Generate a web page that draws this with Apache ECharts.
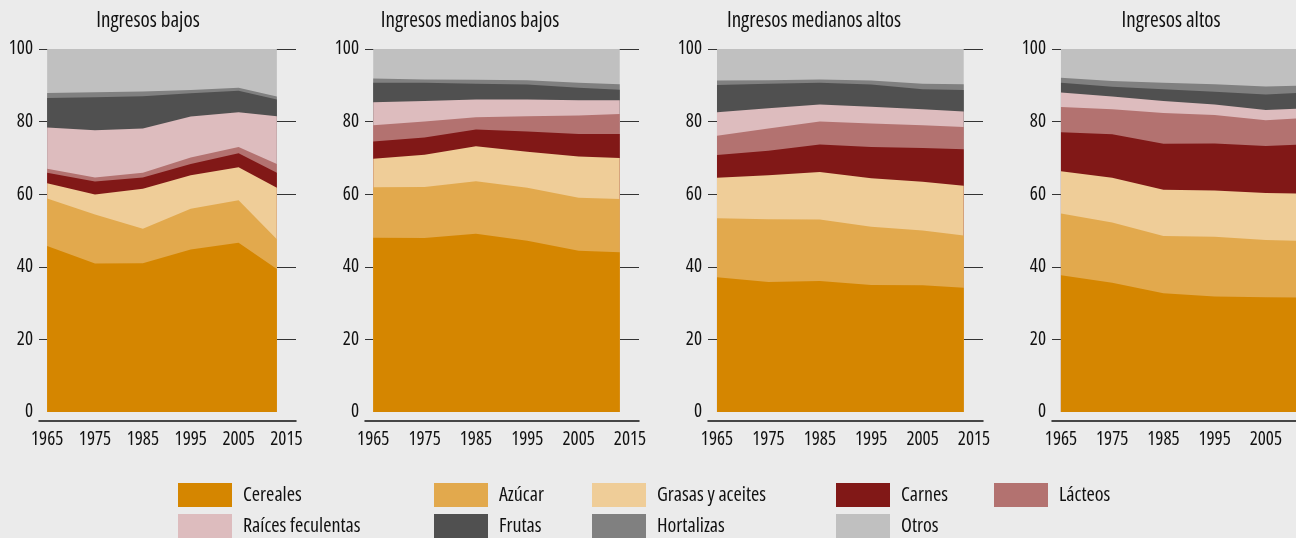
<!DOCTYPE html>
<html>
<head>
<meta charset="utf-8">
<script src="https://cdn.jsdelivr.net/npm/echarts@6/dist/echarts.min.js"></script>
<style>
html,body{margin:0;padding:0;background:#ebebeb;}
#c{width:1296px;height:538px;}
</style>
</head>
<body>
<div id="c"></div>
<script>
// Years of observation
const years = [1965, 1975, 1985, 1995, 2005, 2013];
const yearTicks = [1965, 1975, 1985, 1995, 2005, 2015];
const panelTitles = ['Ingresos bajos', 'Ingresos medianos bajos', 'Ingresos medianos altos', 'Ingresos altos'];
const categories = ['Cereales', 'Azúcar', 'Grasas y aceites', 'Carnes', 'Lácteos', 'Raíces feculentas', 'Frutas', 'Hortalizas', 'Otros'];

// Shares (%) per category; one row per income group (bajos, medianos bajos, medianos altos, altos)
const cereales = [
  [45.7, 40.9, 41.0, 44.8, 46.6, 39.4],
  [48.0, 47.9, 49.1, 47.2, 44.4, 44.0],
  [37.1, 35.8, 36.1, 35.0, 34.9, 34.2],
  [37.7, 35.6, 32.7, 31.8, 31.6, 31.5]
];
const azucar = [
  [13.1, 13.5, 9.5, 11.2, 11.7, 8.2],
  [13.9, 14.1, 14.5, 14.6, 14.6, 14.7],
  [16.3, 17.3, 16.9, 16.0, 15.1, 14.4],
  [17.0, 16.6, 15.8, 16.5, 15.8, 15.6]
];
const grasas = [
  [4.2, 5.5, 11.0, 9.2, 9.1, 14.2],
  [7.9, 8.9, 9.6, 9.9, 11.4, 11.3],
  [11.1, 12.1, 13.1, 13.4, 13.4, 13.7],
  [11.6, 12.3, 12.7, 12.7, 12.9, 13.1]
];
const carnes = [
  [2.9, 3.6, 3.1, 3.1, 3.9, 4.1],
  [4.7, 4.7, 4.6, 5.6, 6.2, 6.6],
  [6.3, 6.8, 7.6, 8.6, 9.3, 10.1],
  [10.8, 12.0, 12.7, 13.0, 13.0, 13.5]
];
const lacteos = [
  [1.1, 1.1, 1.3, 1.8, 1.7, 2.4],
  [4.5, 4.4, 3.4, 4.2, 5.1, 5.5],
  [5.3, 6.1, 6.3, 6.5, 6.3, 6.1],
  [6.9, 6.9, 8.5, 7.8, 7.1, 7.3]
];
const raices = [
  [11.4, 13.0, 12.2, 11.3, 9.6, 13.2],
  [6.3, 5.7, 4.9, 4.6, 4.2, 3.8],
  [6.5, 5.6, 4.7, 4.6, 4.4, 4.3],
  [4.0, 3.5, 3.3, 2.9, 2.8, 2.7]
];
const frutas = [
  [8.1, 9.1, 8.9, 6.4, 5.9, 4.6],
  [5.4, 5.0, 4.3, 4.1, 3.4, 2.9],
  [7.5, 6.7, 6.0, 6.1, 5.5, 5.9],
  [2.7, 2.7, 3.2, 3.5, 4.3, 4.3]
];
const hortalizas = [
  [1.4, 1.4, 1.3, 0.9, 0.8, 0.8],
  [1.2, 0.9, 1.1, 1.2, 1.4, 1.5],
  [1.2, 1.0, 0.9, 1.1, 1.5, 1.6],
  [1.4, 1.6, 1.8, 2.1, 2.2, 1.9]
];
const otros = [
  [12.1, 11.9, 11.7, 11.3, 10.7, 13.1],
  [8.1, 8.4, 8.5, 8.6, 9.3, 9.7],
  [8.7, 8.6, 8.4, 8.7, 9.6, 9.7],
  [7.9, 8.8, 9.3, 9.7, 10.3, 10.1]
];
const seriesValues = [cereales, azucar, grasas, carnes, lacteos, raices, frutas, hortalizas, otros];

const colors = ['#D58600', '#E2A94D', '#EFCD98', '#811817', '#B37270', '#DDBCBE', '#505050', '#808080', '#C0C0C0'];

// condensed Open Sans (variable width axis)
const TXT = {fontFamily: "'Open Sans', sans-serif", fontStyle: 'condensed', fontWeight: 500, color: '#111'};

// layout
const grids = [
  {left: 39, width: 257, min: 1963.3, max: 2017.0, titleX: 148},
  {left: 365, width: 274, min: 1963.4, max: 2016.75, titleX: 470},
  {left: 708, width: 275, min: 1963.25, max: 2016.75, titleX: 814},
  {left: 1052, width: 274, min: 1963.25, max: 2016.75, titleX: 1171}
];
// legend column text widths (table-like layout)
const legendTextWidths = [184, 86, 172, 86, 80, 184, 86, 172, 86];

const option = {
  backgroundColor: '#ebebeb',
  animation: false,
  textStyle: Object.assign({}, TXT),
  title: grids.map((g, i) => ({
    text: panelTitles[i],
    left: g.titleX,
    top: 11,
    textAlign: 'center',
    padding: 0,
    textStyle: Object.assign({}, TXT, {fontSize: 21})
  })),
  grid: grids.map(g => ({left: g.left, width: g.width, top: 49, height: 363, outerBoundsMode: 'none', containLabel: false})),
  xAxis: grids.map((g, i) => ({
    type: 'value', gridIndex: i, min: g.min, max: g.max,
    offset: 9,
    axisLine: {show: true, onZero: false, lineStyle: {color: '#111', width: 1.5}},
    axisTick: {show: false},
    splitLine: {show: false},
    axisLabel: Object.assign({customValues: yearTicks, margin: 9, fontSize: 19, formatter: v => String(v), hideOverlap: false}, TXT)
  })),
  yAxis: grids.map((g, i) => ({
    type: 'value', gridIndex: i, min: 0, max: 100, interval: 20,
    axisLine: {show: false},
    axisTick: {show: false},
    splitLine: {show: true, showMinLine: false, lineStyle: {color: '#333', width: 1.2}},
    axisLabel: Object.assign({margin: 6, fontSize: 19}, TXT)
  })),
  legend: {
    left: 178,
    top: 483,
    width: 975,
    padding: 0,
    itemGap: 7,
    itemWidth: 54,
    itemHeight: 24,
    icon: 'rect',
    selectedMode: false,
    textStyle: Object.assign({}, TXT, {fontSize: 20, lineHeight: 24, padding: [0, 0, 0, 6], backgroundColor: 'rgba(0,0,0,0)'}),
    data: categories.map((c, k) => ({name: c, textStyle: {width: legendTextWidths[k]}}))
  },
  series: []
};

// Stacked areas: cumulative totals drawn from the top layer down so each band shows its own share
for (let p = 0; p < 4; p++) {
  for (let k = categories.length - 1; k >= 0; k--) {
    const cum = years.map((y, j) => {
      let s = 0;
      for (let m = 0; m <= k; m++) s += seriesValues[m][p][j];
      return [y, Math.round(s * 100) / 100];
    });
    option.series.push({
      name: categories[k],
      type: 'line',
      xAxisIndex: p,
      yAxisIndex: p,
      showSymbol: false,
      symbol: 'none',
      lineStyle: {width: 0},
      itemStyle: {color: colors[k]},
      areaStyle: {color: colors[k], opacity: 1, origin: 'start'},
      data: cum
    });
  }
}

const chart = echarts.init(document.getElementById('c'), null, {renderer: 'canvas'});
chart.setOption(option);
</script>
</body>
</html>
